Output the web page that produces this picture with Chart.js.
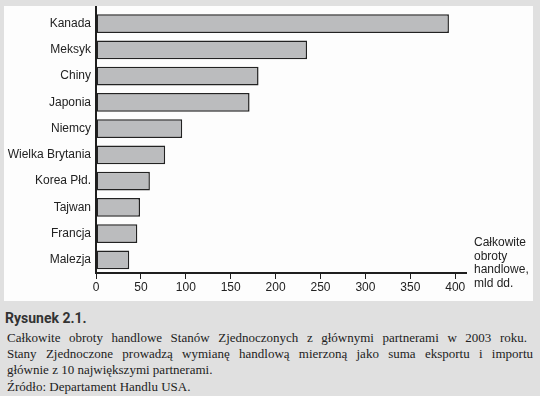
<!DOCTYPE html>
<html>
<head>
<meta charset="utf-8">
<script src="https://cdn.jsdelivr.net/npm/chart.js@4"></script>
<style>
  body { margin: 0; width: 540px; height: 396px; background: #e0e0e0; position: relative; overflow: hidden; }
  #panel { position: absolute; left: 4px; top: 6px; width: 529px; height: 295px; background: #fdfdfd; }
  #panel canvas { position: absolute; left: 0; top: 0; }
  #unit { position: absolute; left: 474px; top: 236px; font: 12px "Liberation Sans", Arial, sans-serif; line-height: 13.5px; color: #222; }
  #fig { position: absolute; left: 5px; top: 310px; font: bold 14px Roboto, "Liberation Sans", sans-serif; color: #333; }
  #caption { position: absolute; left: 7px; top: 330px; font: 13px "Liberation Serif", "DejaVu Serif", serif; line-height: 16px; color: #222; }
  #caption p { margin: 0; white-space: nowrap; }
  #caption p.just { text-align: justify; text-align-last: justify; white-space: normal; }
</style>
</head>
<body>
<div id="panel"><canvas id="trade-chart" width="529" height="295"></canvas></div>
<div id="unit">Całkowite<br>obroty<br>handlowe,<br>mld dd.</div>
<div id="fig">Rysunek 2.1.</div>
<div id="caption">
  <p class="just" style="width:520px">Całkowite obroty handlowe Stanów Zjednoczonych z głównymi partnerami w 2003 roku.</p>
  <p class="just" style="width:526px">Stany Zjednoczone prowadzą wymianę handlową mierzoną jako suma eksportu i importu</p>
  <p>głównie z 10 największymi partnerami.</p>
  <p style="margin-top:1px">Źródło: Departament Handlu USA.</p>
</div>
<script>
const countries = ['Kanada', 'Meksyk', 'Chiny', 'Japonia', 'Niemcy', 'Wielka Brytania', 'Korea Płd.', 'Tajwan', 'Francja', 'Malezja'];
const tradeTotals = [393, 235, 181, 171, 96, 77, 60, 49, 46, 37];
const xTicks = [0, 50, 100, 150, 200, 250, 300, 350, 400];

// pionowa os siega do gornej krawedzi panelu
const axisLinePlugin = {
  id: 'axisLine',
  afterDraw(chart) {
    const { ctx, chartArea } = chart;
    ctx.save();
    ctx.strokeStyle = '#1e1e1e';
    ctx.lineWidth = 2;
    ctx.beginPath();
    ctx.moveTo(chartArea.left, 0);
    ctx.lineTo(chartArea.left, chartArea.bottom);
    ctx.stroke();
    ctx.restore();
  }
};

const ctx = document.getElementById('trade-chart').getContext('2d');
const tradeChart = new Chart(ctx, {
  type: 'bar',
  data: {
    labels: countries,
    datasets: [{
      data: tradeTotals,
      backgroundColor: '#bbbcbe',
      borderColor: '#222',
      borderWidth: 1.5,
      borderSkipped: false,
      barPercentage: 0.71,
      categoryPercentage: 1
    }]
  },
  options: {
    indexAxis: 'y',
    responsive: false,
    animation: false,
    layout: { padding: { top: 0, right: 67, left: 0, bottom: 0 } },
    plugins: { legend: { display: false }, tooltip: { enabled: false } },
    scales: {
      x: {
        min: 0,
        max: 412,
        afterBuildTicks: axis => { axis.ticks = xTicks.map(v => ({ value: v })); },
        afterFit: s => { s.height = 28; },
        border: { display: true, color: '#1e1e1e', width: 2 },
        grid: { drawOnChartArea: false, drawTicks: true, tickLength: 6, color: '#1e1e1e', lineWidth: 1 },
        ticks: { color: '#222', padding: 1, font: { family: 'Liberation Sans', size: 12 }, maxRotation: 0 }
      },
      y: {
        afterFit: s => { s.width = 92; },
        border: { display: false },
        // kreski niewidoczne, tickLength daje tylko odstep etykiet od osi
        grid: { display: false, drawTicks: true, tickLength: 5 },
        ticks: { color: '#222', padding: 0, font: { family: 'Liberation Sans', size: 12, lineHeight: 0.75 } }
      }
    }
  },
  plugins: [axisLinePlugin]
});
</script>
</body>
</html>
